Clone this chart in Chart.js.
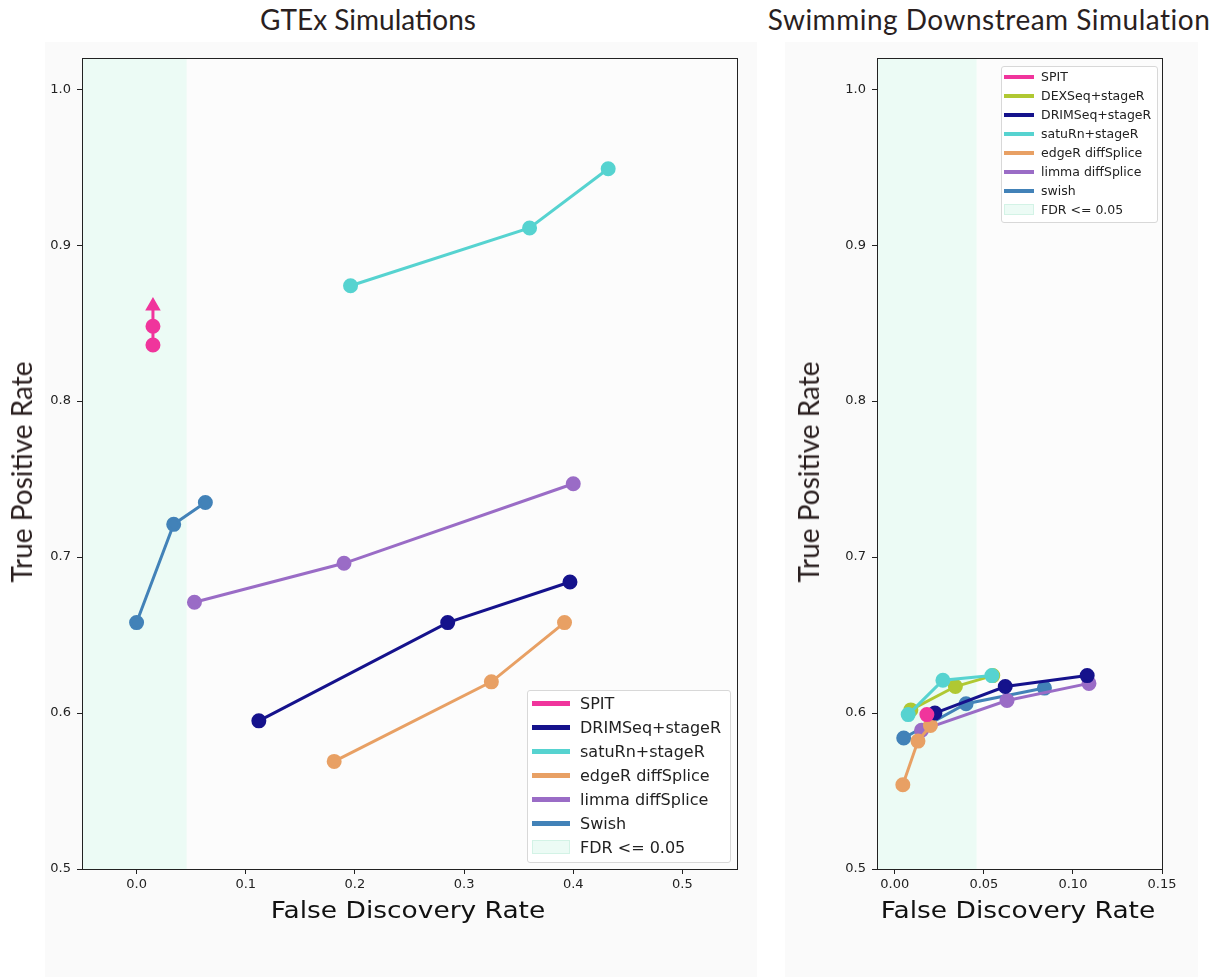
<!DOCTYPE html>
<html>
<head>
<meta charset="utf-8">
<script src="https://cdn.jsdelivr.net/npm/chart.js@4.4.1/dist/chart.umd.min.js"></script>
<style>
    body { margin: 0; background: #fff; width: 1228px; height: 977px; position: relative; overflow: hidden; font-family: "DejaVu Sans", sans-serif; }
    .fig { position: absolute; background: #fafafa; }
    .title { position: absolute; font-family: Lato, "Open Sans", sans-serif; font-size: 28px; line-height: 28px; color: #2a1f1f; white-space: nowrap; transform: translateX(-50%); }
    .xtitle { position: absolute; font-family: "DejaVu Sans", sans-serif; font-size: 23px; line-height: 23px; color: #111; white-space: nowrap; transform: translateX(-50%) scaleX(1.15); }
    .ytitle { position: absolute; font-family: Lato, "Open Sans", sans-serif; font-size: 28px; line-height: 28px; color: #2a1f1f; white-space: nowrap; transform: translate(-50%, -50%) rotate(-90deg); }
    canvas { position: absolute; }
    .legend { position: absolute; background: rgba(255,255,255,0.85); border: 1px solid #d8d8d8; border-radius: 3px; box-sizing: border-box; }
    .legend .row { display: flex; align-items: center; white-space: nowrap; color: #222; }
    .legend .sw { display: inline-block; box-sizing: border-box; }
</style>
</head>
<body>
<div class="fig" style="left:45px; top:42px; width:712px; height:935px;"></div>
<div class="fig" style="left:785px; top:42px; width:413px; height:935px;"></div>
<div class="title" style="left:368px; top:5px;">GTEx Simulations</div>
<div class="title" style="left:989px; top:5px; letter-spacing:0.5px;">Swimming Downstream Simulation</div>
<canvas id="gtex" width="760" height="935" style="left:0; top:40px;"></canvas>
<canvas id="swim" width="458" height="935" style="left:770px; top:40px;"></canvas>
<div class="xtitle" style="left:408px; top:899px;">False Discovery Rate</div>
<div class="xtitle" style="left:1018px; top:899px;">False Discovery Rate</div>
<div class="ytitle" style="left:21px; top:472px;">True Positive Rate</div>
<div class="ytitle" style="left:808px; top:472px;">True Positive Rate</div>
<div class="legend" id="gtexLegend" style="left:527px; top:690px; width:204px; height:173px; font-size:16px;"></div>
<div class="legend" id="swimLegend" style="left:1001px; top:66px; width:157px; height:157px; font-size:12.5px;"></div>

<script>
// GTEx simulations
const gtexNames = ["SPIT", "DRIMSeq+stageR", "satuRn+stageR", "edgeR diffSplice", "limma diffSplice", "Swish"];
const gtexColors = ["#f0359c", "#15128c", "#56d3d0", "#e8a064", "#9a6cc6", "#4282b8"];
const gtexFdr = [
    [0.015, 0.015, 0.015],
    [0.112, 0.285, 0.397],
    [0.196, 0.360, 0.432],
    [0.181, 0.325, 0.392],
    [0.053, 0.190, 0.400],
    [0.000, 0.034, 0.063],
];
const gtexTpr = [
    [0.836, 0.848, 0.861],
    [0.595, 0.658, 0.684],
    [0.874, 0.911, 0.949],
    [0.569, 0.620, 0.658],
    [0.671, 0.696, 0.747],
    [0.658, 0.721, 0.735],
];
const gtexXTicks = [0.0, 0.1, 0.2, 0.3, 0.4, 0.5];

// Swimming downstream simulation
const swimNames = ["SPIT", "DEXSeq+stageR", "DRIMSeq+stageR", "satuRn+stageR", "edgeR diffSplice", "limma diffSplice", "swish"];
const swimColors = ["#f0359c", "#b0c832", "#15128c", "#56d3d0", "#e8a064", "#9a6cc6", "#4282b8"];
const swimFdr = [
    [0.018],
    [0.009, 0.034, 0.055],
    [0.0225, 0.062, 0.108],
    [0.0075, 0.027, 0.0545],
    [0.0045, 0.013, 0.020],
    [0.015, 0.063, 0.109],
    [0.005, 0.040, 0.084],
];
const swimTpr = [
    [0.599],
    [0.602, 0.617, 0.624],
    [0.600, 0.617, 0.624],
    [0.599, 0.621, 0.624],
    [0.554, 0.582, 0.592],
    [0.589, 0.608, 0.619],
    [0.584, 0.606, 0.616],
];
const swimXTicks = [0.00, 0.05, 0.10, 0.15];

const yTicks = [0.5, 0.6, 0.7, 0.8, 0.9, 1.0];
const fdrCut = 0.046;
const bandLabel = "FDR <= 0.05";
const bandColor = "#ecfbf5";
const bandEdge = "#d3f3e6";

// plot background + full box around the axes
const frame = {
    id: "frame",
    beforeDraw(chart) {
        const { ctx, chartArea: a } = chart;
        ctx.save();
        ctx.fillStyle = "#fcfcfc";
        ctx.fillRect(a.left, a.top, a.right - a.left, a.bottom - a.top);
        ctx.restore();
    },
    afterDraw(chart) {
        const { ctx, chartArea: a } = chart;
        ctx.save();
        ctx.strokeStyle = "#222";
        ctx.lineWidth = 1;
        ctx.strokeRect(Math.round(a.left) + 0.5, Math.round(a.top) + 0.5, Math.round(a.right - a.left), Math.round(a.bottom - a.top));
        ctx.restore();
    },
};

const buildSeries = (names, colors, fdr, tpr, orders, styles) =>
    names.map((name, i) => ({
        label: name,
        data: fdr[i].map((x, j) => ({ x, y: tpr[i][j] })),
        showLine: true,
        borderColor: colors[i],
        backgroundColor: colors[i],
        borderWidth: 3,
        pointRadius: 6,
        pointHoverRadius: 6,
        pointStyle: styles && styles[i] ? styles[i] : "circle",
        order: orders[i],
    }));

const band = (xMin, yMax) => ({
    label: bandLabel,
    data: [{ x: xMin, y: yMax }, { x: fdrCut, y: yMax }],
    showLine: true,
    borderWidth: 0,
    pointRadius: 0,
    fill: "start",
    backgroundColor: bandColor,
    order: 100,
});

const makeOptions = (xMin, xMax, xTicks, digits, yWidth) => ({
    responsive: false,
    animation: false,
    layout: { padding: { left: 0, right: 0, top: 18, bottom: 36 } },
    plugins: { legend: { display: false }, tooltip: { enabled: false } },
    scales: {
        x: {
            type: "linear",
            min: xMin,
            max: xMax,
            afterBuildTicks: (s) => { s.ticks = xTicks.map((v) => ({ value: v })); },
            afterFit: (s) => { s.height = 70; },
            ticks: { callback: (v) => Number(v).toFixed(digits), color: "#222", padding: 3, font: { family: "DejaVu Sans", size: 13 }, maxRotation: 0 },
            grid: { drawOnChartArea: false, tickLength: 5, color: "#222" },
            border: { color: "#222" },
        },
        y: {
            type: "linear",
            min: 0.5,
            max: 1.02,
            afterBuildTicks: (s) => { s.ticks = yTicks.map((v) => ({ value: v })); },
            afterFit: (s) => { s.width = yWidth; },
            ticks: { callback: (v) => Number(v).toFixed(1), color: "#222", padding: 6, font: { family: "DejaVu Sans", size: 13 } },
            grid: { drawOnChartArea: false, tickLength: 5, color: "#222" },
            border: { color: "#222" },
        },
    },
});

// GTEx chart
const gtexOpts = makeOptions(-0.05, 0.55, gtexXTicks, 1, 82);
gtexOpts.layout.padding.right = 23;
new Chart(document.getElementById("gtex"), {
    type: "scatter",
    data: {
        datasets: [
            ...buildSeries(gtexNames, gtexColors, gtexFdr, gtexTpr, [0, 1, 2, 3, 4, 5],
                [["circle", "circle", "triangle"]]),
            band(-0.05, 1.02),
        ],
    },
    options: gtexOpts,
    plugins: [frame],
});

// Swimming downstream chart
const swimOpts = makeOptions(-0.01, 0.15, swimXTicks, 2, 107);
swimOpts.layout.padding.right = 66;
new Chart(document.getElementById("swim"), {
    type: "scatter",
    data: {
        datasets: [
            ...buildSeries(swimNames, swimColors, swimFdr, swimTpr, [0, 2, 3, 1, 4, 5, 6]),
            band(-0.01, 1.02),
        ],
    },
    options: swimOpts,
    plugins: [frame],
});

// legends
function fillLegend(el, names, colors, rowH, swW, swH, gap, left) {
    const rows = names.map((n, i) =>
        `<div class="row" style="height:${rowH}px"><span class="sw" style="margin-left:${left}px;width:${swW}px;height:${swH}px;background:${colors[i]}"></span><span style="margin-left:${gap}px">${n}</span></div>`);
    rows.push(`<div class="row" style="height:${rowH}px"><span class="sw" style="margin-left:${left}px;width:${swW}px;height:${Math.round(rowH * 0.6)}px;background:${bandColor};border:1px solid ${bandEdge}"></span><span style="margin-left:${gap}px">${bandLabel.replace("<", "&lt;")}</span></div>`);
    el.innerHTML = rows.join("");
}
fillLegend(document.getElementById("gtexLegend"), gtexNames, gtexColors, 24, 38, 5, 10, 4);
fillLegend(document.getElementById("swimLegend"), swimNames, swimColors, 19, 30, 4, 7, 2);
</script>
</body>
</html>
